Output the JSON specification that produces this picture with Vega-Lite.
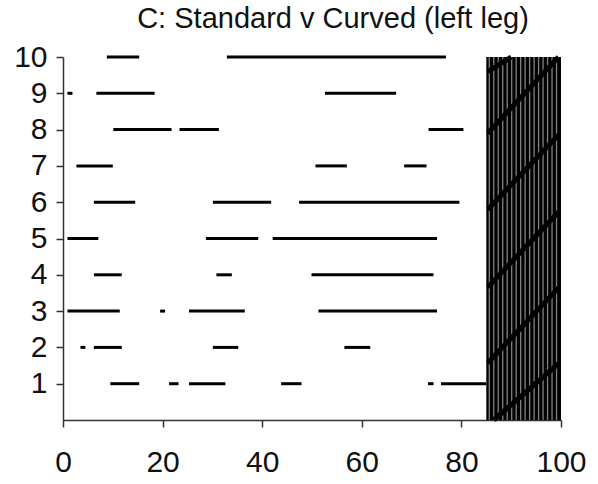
{
  "$schema": "https://vega.github.io/schema/vega-lite/v6.json",
  "autosize": {"type": "none"},
  "padding": {"left": 63, "top": 57, "right": 37, "bottom": 64},
  "width": 498,
  "height": 363,
  "background": "white",
  "title": {"text": "C: Standard v Curved (left leg)", "font": "Liberation Sans", "fontSize": 29, "fontWeight": "normal", "color": "#111", "anchor": "middle", "dx": 21, "offset": 8},
  "config": {"view": {"stroke": null}},
  "datasets": {
    "segs": [
      {"row": 10, "start": 8.8, "end": 15.3},
      {"row": 10, "start": 32.9, "end": 76.9},
      {"row": 9, "start": 0.9, "end": 1.9},
      {"row": 9, "start": 6.7, "end": 18.4},
      {"row": 9, "start": 52.6, "end": 66.9},
      {"row": 8, "start": 10.1, "end": 21.8},
      {"row": 8, "start": 23.4, "end": 31.3},
      {"row": 8, "start": 73.4, "end": 80.4},
      {"row": 7, "start": 2.7, "end": 10.0},
      {"row": 7, "start": 50.7, "end": 57.0},
      {"row": 7, "start": 68.5, "end": 73.0},
      {"row": 6, "start": 6.2, "end": 14.5},
      {"row": 6, "start": 30.1, "end": 41.8},
      {"row": 6, "start": 47.4, "end": 79.6},
      {"row": 5, "start": 0.9, "end": 7.1},
      {"row": 5, "start": 28.7, "end": 39.2},
      {"row": 5, "start": 42.1, "end": 75.1},
      {"row": 4, "start": 6.2, "end": 11.8},
      {"row": 4, "start": 30.8, "end": 33.9},
      {"row": 4, "start": 49.9, "end": 74.4},
      {"row": 3, "start": 0.9, "end": 11.4},
      {"row": 3, "start": 19.5, "end": 20.5},
      {"row": 3, "start": 25.3, "end": 36.5},
      {"row": 3, "start": 51.3, "end": 75.1},
      {"row": 2, "start": 3.5, "end": 4.5},
      {"row": 2, "start": 6.2, "end": 11.8},
      {"row": 2, "start": 30.1, "end": 35.2},
      {"row": 2, "start": 56.5, "end": 61.7},
      {"row": 1, "start": 9.5, "end": 15.3},
      {"row": 1, "start": 21.3, "end": 23.2},
      {"row": 1, "start": 25.3, "end": 32.6},
      {"row": 1, "start": 43.8, "end": 47.9},
      {"row": 1, "start": 73.3, "end": 74.4},
      {"row": 1, "start": 75.9, "end": 85.0}
    ],
    "block": [{"x0": 85, "x1": 100, "y0": 0, "y1": 10}],
    "stripes": [
      {"x": 85.6}, {"x": 86.5}, {"x": 87.4}, {"x": 88.3}, {"x": 89.2},
      {"x": 90.1}, {"x": 91.0}, {"x": 91.9}, {"x": 92.8}, {"x": 93.7},
      {"x": 94.6}, {"x": 95.5}, {"x": 96.4}, {"x": 97.3}, {"x": 98.2},
      {"x": 99.1}
    ],
    "bands": [
      {"xa": 85.3, "ya": 9.6, "xb": 90.0, "yb": 10.0},
      {"xa": 85.3, "ya": 7.9, "xb": 99.5, "yb": 10.0},
      {"xa": 85.3, "ya": 5.8, "xb": 99.5, "yb": 7.85},
      {"xa": 85.3, "ya": 3.66, "xb": 99.5, "yb": 5.73},
      {"xa": 85.3, "ya": 1.57, "xb": 99.5, "yb": 3.64},
      {"xa": 86.5, "ya": 0.0, "xb": 99.5, "yb": 1.55}
    ]
  },
  "layer": [
    {
      "data": {"name": "segs"},
      "mark": {"type": "rule", "strokeWidth": 3, "color": "black", "strokeCap": "butt"},
      "encoding": {
        "x": {"field": "start", "type": "quantitative", "scale": {"domain": [0, 100], "nice": false},
          "axis": {"values": [0, 20, 40, 60, 80, 100], "title": null, "grid": false, "labelFlush": false, "domainColor": "#333", "domainWidth": 1.5, "tickColor": "#333", "tickWidth": 1.5, "tickSize": 7, "labelFont": "Liberation Sans", "labelFontSize": 30, "labelColor": "#111", "labelPadding": 20}},
        "x2": {"field": "end"},
        "y": {"field": "row", "type": "quantitative", "scale": {"domain": [0, 10], "nice": false},
          "axis": {"values": [1, 2, 3, 4, 5, 6, 7, 8, 9, 10], "title": null, "grid": false, "labelFlush": false, "domainColor": "#333", "domainWidth": 1.5, "tickColor": "#333", "tickWidth": 1.5, "tickSize": 7, "labelFont": "Liberation Sans", "labelFontSize": 30, "labelColor": "#111", "labelPadding": 9}}
      }
    },
    {
      "data": {"name": "block"},
      "mark": {"type": "rect", "color": "black"},
      "encoding": {
        "x": {"field": "x0", "type": "quantitative"},
        "x2": {"field": "x1"},
        "y": {"field": "y0", "type": "quantitative"},
        "y2": {"field": "y1"}
      }
    },
    {
      "data": {"name": "stripes"},
      "mark": {"type": "rule", "color": "#828282", "strokeWidth": 1.3},
      "encoding": {
        "x": {"field": "x", "type": "quantitative"}
      }
    },
    {
      "data": {"name": "bands"},
      "mark": {"type": "rule", "color": "black", "strokeWidth": 5},
      "encoding": {
        "x": {"field": "xa", "type": "quantitative"},
        "y": {"field": "ya", "type": "quantitative"},
        "x2": {"field": "xb"},
        "y2": {"field": "yb"}
      }
    }
  ]
}
